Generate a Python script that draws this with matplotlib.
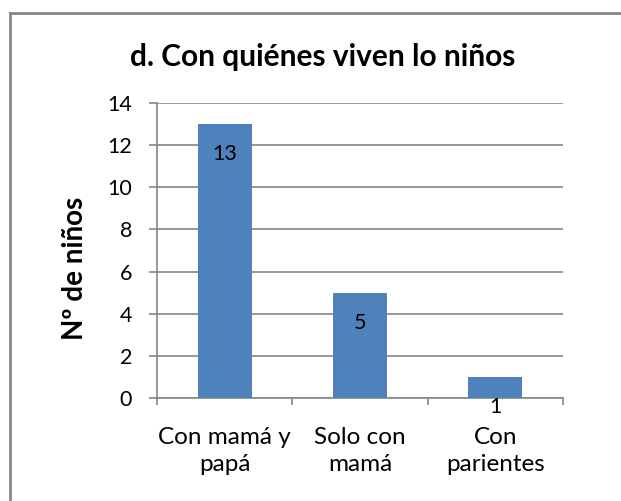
import matplotlib.pyplot as plt
from matplotlib.lines import Line2D

categories = ['Con mamá y\npapá', 'Solo con\nmamá', 'Con\nparientes']
counts = [13, 5, 1]
yticks = [0, 2, 4, 6, 8, 10, 12, 14]

plt.rcParams['font.family'] = ['Lato', 'DejaVu Sans']
grey = '#868686'

fig = plt.figure(figsize=(6.21, 5.01), dpi=100)
ax = fig.add_axes([157/621, 103/501, 406/621, 295/501])

x = list(range(len(categories)))
ax.bar(x, counts, width=0.4, color='#4F81BD', zorder=3)

ax.set_xlim(-0.5, 2.5)
ax.set_ylim(0, 14)
ax.set_yticks(yticks)
ax.yaxis.grid(True, color=grey, linewidth=1.2, zorder=0)
ax.set_xticks([-0.5, 0.5, 1.5, 2.5])
ax.set_xticklabels([])
ax.set_xticks(x, minor=True)
ax.set_xticklabels(categories, minor=True, fontsize=17.5, linespacing=1.35)
ax.tick_params(axis='x', which='major', length=5, color=grey, width=1.2)
ax.tick_params(axis='x', which='minor', length=0, pad=21)
ax.tick_params(axis='y', length=6, color=grey, width=1.2, labelsize=15.5, pad=12)

for s in ['top', 'right']:
    ax.spines[s].set_visible(False)
for s in ['left', 'bottom']:
    ax.spines[s].set_color(grey)
    ax.spines[s].set_linewidth(1.2)

for xi, v in zip(x, counts):
    ax.annotate(str(v), (xi, v), xytext=(0, -21.5), textcoords='offset points',
                ha='center', va='center', fontsize=15.5, zorder=4)

ax.set_ylabel('Nº de niños', fontsize=20, fontweight='bold')
ax.yaxis.set_label_coords(-0.17, 0.44)
fig.text(323/621, 1 - 57/501, 'd. Con quiénes viven lo niños', ha='center', va='center',
         fontsize=21.5, fontweight='bold')

# outer frame (top and left edges only visible)
fig.add_artist(Line2D([10/621, 1], [1 - 13/501, 1 - 13/501], color=grey, linewidth=2,
                      transform=fig.transFigure))
fig.add_artist(Line2D([10/621, 10/621], [0, 1 - 13/501], color=grey, linewidth=2,
                      transform=fig.transFigure))

fig.savefig('out.png', dpi=100)
